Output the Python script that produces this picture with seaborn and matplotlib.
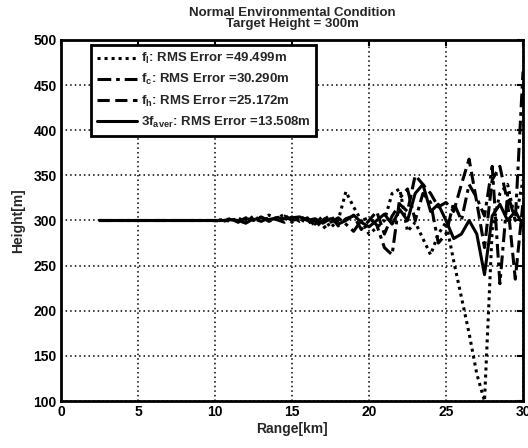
import numpy as np
import pandas as pd
import seaborn as sns
import matplotlib
matplotlib.use("Agg")
import matplotlib.pyplot as plt

# ---------------- data ----------------
range_km = [2.5, 10.0, 10.5, 11.0, 11.5, 12.0, 12.5, 13.0, 13.5, 14.0, 14.5,
            15.0, 15.5, 16.0, 16.5, 17.0, 17.5, 18.0, 18.5, 19.0, 19.5,
            20.0, 20.5, 21.0, 21.5, 22.0, 22.5, 23.0, 23.5, 24.0, 24.5,
            25.0, 25.5, 26.0, 26.5, 27.0, 27.5, 28.0, 28.5, 29.0, 29.5, 30.0]

f_l = [300, 300, 301, 299, 303, 298, 305, 300, 306, 302, 307,
       298, 305, 300, 296, 305, 292, 300, 332, 315, 300,
       285, 292, 300, 330, 335, 288, 298, 280, 262, 285,
       298, 255, 215, 175, 130, 100, 290, 330, 340, 300, 345]

f_c = [300, 300, 300, 302, 298, 303, 300, 304, 299, 303, 305,
       300, 302, 297, 300, 291, 298, 303, 296, 288, 300,
       303, 295, 270, 262, 325, 335, 300, 330, 320, 275,
       285, 320, 300, 340, 325, 305, 360, 230, 330, 300, 465]

f_h = [300, 300, 299, 301, 300, 297, 302, 299, 303, 301, 298,
       304, 299, 303, 294, 300, 306, 294, 302, 305, 290,
       300, 310, 285, 305, 318, 310, 350, 340, 330, 315,
       320, 310, 340, 368, 320, 270, 345, 360, 320, 235, 320]

f_aver = [300, 300, 300, 301, 300, 302, 301, 303, 301, 303, 302,
          303, 304, 300, 302, 297, 302, 296, 300, 306, 298,
          293, 300, 307, 296, 312, 300, 330, 340, 310, 318,
          300, 280, 285, 300, 285, 240, 305, 318, 300, 310, 295]

labels = [r"$f_l$: RMS Error =49.499m",
          r"$f_c$: RMS Error =30.290m",
          r"$f_h$: RMS Error =25.172m",
          r"$3f_{aver}$: RMS Error =13.508m"]

x_ticks = [0, 5, 10, 15, 20, 25, 30]
y_ticks = [100, 150, 200, 250, 300, 350, 400, 450, 500]

# ---------------- style ----------------
sns.set_theme(style="white")
plt.rcParams["font.family"] = ["Liberation Sans", "DejaVu Sans"]
plt.rcParams["font.weight"] = "bold"
plt.rcParams["mathtext.fontset"] = "custom"
plt.rcParams["mathtext.bf"] = "Liberation Sans:bold"
plt.rcParams["mathtext.rm"] = "Liberation Sans:bold"
plt.rcParams["mathtext.it"] = "Liberation Sans:bold"
plt.rcParams["mathtext.default"] = "bf"

fig = plt.figure(figsize=(5.28, 4.48), dpi=100)
ax = fig.add_axes([61 / 528, 1 - 401 / 448, 462 / 528, 361 / 448])

series = [f_l, f_c, f_h, f_aver]
styles = [(0, (1, 1.3)), (0, (4.5, 1.6, 1.2, 1.6)), (0, (4, 1.8)), "-"]
for vals, lab, ls in zip(series, labels, styles):
    df = pd.DataFrame({"Range": range_km, "Height": vals})
    sns.lineplot(data=df, x="Range", y="Height", ax=ax, color="black",
                 linestyle=ls, linewidth=2.2, label=lab, sort=False,
                 estimator=None)

ax.set_xlim(0, 30)
ax.set_ylim(100, 500)
ax.set_xticks(x_ticks)
ax.set_yticks(y_ticks)
ax.set_xticklabels([str(v) for v in x_ticks], fontsize=10, fontweight="bold")
ax.set_yticklabels([str(v) for v in y_ticks], fontsize=10, fontweight="bold")
ax.tick_params(direction="in", length=4, width=1.5, top=True, right=True,
               colors="black", pad=3)
ax.grid(True, color="black", linestyle=(0, (1, 2)), linewidth=1.1)
for sp in ax.spines.values():
    sp.set_color("black")
    sp.set_linewidth(2)

ax.set_xlabel("Range[km]", fontsize=10, fontweight="bold", labelpad=2)
ax.set_ylabel("Height[m]", fontsize=10, fontweight="bold", labelpad=6)
ax.set_title("Normal Environmental Condition\nTarget Height = 300m",
             fontsize=9.5, fontweight="bold", pad=9, linespacing=1.0)

leg = ax.legend(loc="upper left", bbox_to_anchor=(0.065, 0.985),
                fontsize=9.5, handlelength=3.0, labelspacing=0.45,
                frameon=True, fancybox=False, borderpad=0.45,
                handletextpad=0.3, borderaxespad=0)
leg.get_frame().set_edgecolor("black")
leg.get_frame().set_linewidth(2)
leg.get_frame().set_alpha(1)
for t in leg.get_texts():
    t.set_fontweight("bold")

fig.savefig("out.png", dpi=100)
